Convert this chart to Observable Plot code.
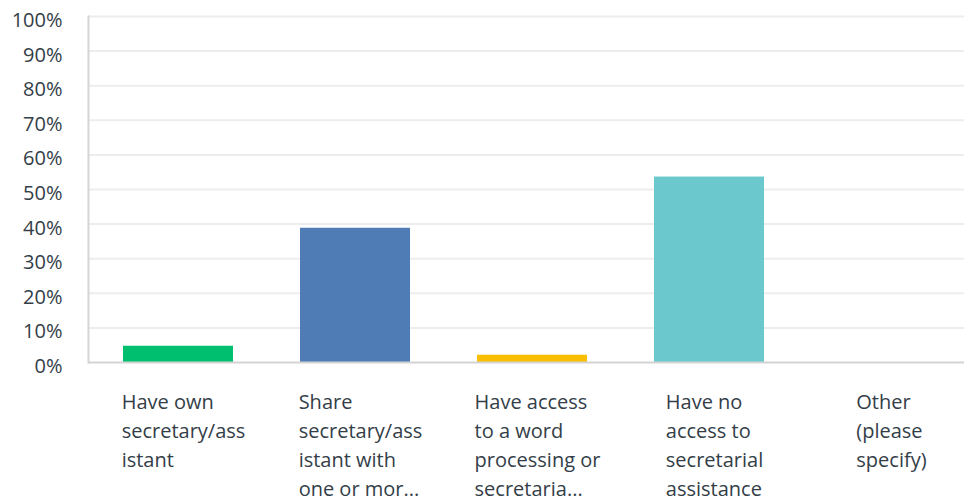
<!DOCTYPE html>
<html><head><meta charset="utf-8">
<script src="https://cdn.jsdelivr.net/npm/d3@7"></script>
<script src="https://cdn.jsdelivr.net/npm/@observablehq/plot@0.6"></script>
<style>html,body{margin:0;padding:0;background:#fff;overflow:hidden}</style>
</head><body><div id="chart"></div>
<script>
const categories = [
  "Have own secretary/assistant",
  "Share secretary/assistant with one or more",
  "Have access to a word processing or secretarial pool",
  "Have no access to secretarial assistance",
  "Other (please specify)"
];
const labels = [
  "Have own\nsecretary/ass\nistant",
  "Share\nsecretary/ass\nistant with\none or mor...",
  "Have access\nto a word\nprocessing or\nsecretaria...",
  "Have no\naccess to\nsecretarial\nassistance",
  "Other\n(please\nspecify)"
];
const values = [4.7, 38.8, 2.1, 53.6, 0];
const colors = ["#00bf6f", "#507cb6", "#f9be00", "#6bc8cd", "#9d6ba9"];
const yTicks = [0, 10, 20, 30, 40, 50, 60, 70, 80, 90, 100];

const data = categories.map((c, i) => ({category: c, label: labels[i], value: values[i]}));

const plot = Plot.plot({
  width: 964,
  height: 496,
  marginLeft: 88,
  marginRight: 0,
  marginTop: 16,
  marginBottom: 134,
  style: {fontFamily: "'Open Sans', sans-serif", fontSize: "20px", color: "#333e48", background: "#fff"},
  x: {domain: categories, range: [88, 976], paddingInner: 0.38, paddingOuter: 0.19, axis: null},
  y: {domain: [0, 100], axis: null},
  color: {domain: categories, range: colors},
  marks: [
    Plot.ruleY(yTicks.filter(d => d > 0), {stroke: "#ededed", strokeWidth: 2}),
    Plot.frame({anchor: "left", stroke: "#d6d6d6", strokeWidth: 2}),
    Plot.axisY({ticks: yTicks, tickFormat: d => d + "%", tickSize: 0, tickPadding: 26, fontSize: 20, dy: 4, label: null}),
    Plot.barY(data, {x: "category", y: "value", fill: "category"}),
    Plot.ruleY([0], {stroke: "#d3d3d3", strokeWidth: 2}),
    Plot.text(data, {x: "category", text: "label", frameAnchor: "bottom", dy: 26, lineAnchor: "top",
      textAnchor: "start", lineHeight: 1.45, fontSize: 20, fill: "#333e48"})
  ]
});
document.getElementById("chart").appendChild(plot);
// center each left-aligned label block under its bar
plot.querySelectorAll('g[aria-label="text"] text').forEach(t => {
  const w = t.getBBox().width;
  const base = t.getAttribute("transform") || "";
  t.setAttribute("transform", `${base} translate(${-w / 2 + 5},0)`);
});
</script>
</body></html>
